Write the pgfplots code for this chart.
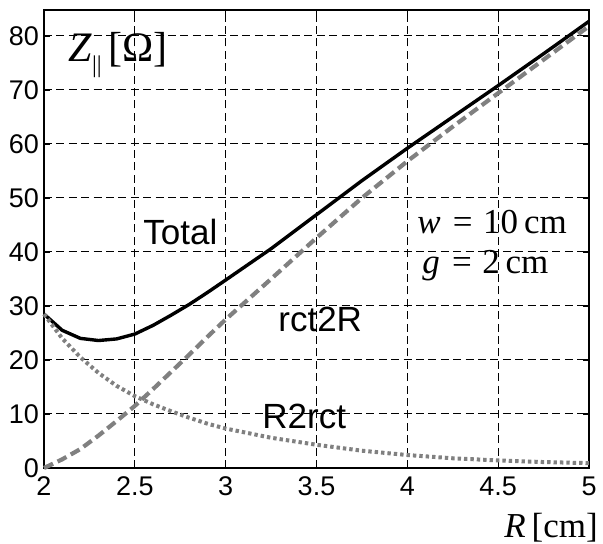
\documentclass[border=0pt]{standalone}
\usepackage{fontspec}
\setmainfont{Liberation Sans}
\newfontfamily\serif{Liberation Serif}
\usepackage{pgfplots}
\usepackage{pgfplotstable}
\pgfplotsset{compat=1.18}
\definecolor{curvegray}{RGB}{128,128,128}

% impedance contributions versus radius R
\pgfplotstableread{
R     total  rctR   Rrct
2.00  28.5   0.0    28.5
2.10  25.5   1.6    24.0
2.20  24.0   3.5    20.5
2.30  23.6   6.0    17.6
2.40  23.9   8.7    15.2
2.50  24.8   11.5   13.3
2.60  26.4   14.6   11.8
2.70  28.3   17.8   10.5
2.80  30.3   21.0   9.3
2.90  32.5   24.3   8.2
3.00  34.8   27.5   7.3
3.25  40.6   35.0   5.6
3.50  46.9   42.6   4.3
3.75  53.2   50.0   3.2
4.00  59.2   56.8   2.4
4.25  65.0   63.2   1.8
4.50  70.8   69.4   1.4
4.75  76.7   75.6   1.1
5.00  82.7   81.8   0.9
}\zdata

\begin{document}
\begin{tikzpicture}
\path[use as bounding box] (-22pt,-38pt) rectangle (279.5pt,234pt);
\begin{axis}[
  at={(0,0)}, anchor=south west,
  width=272.5pt, height=229pt, scale only axis,
  xmin=2, xmax=5, ymin=0, ymax=84.8,
  xtick={2,2.5,...,5}, ytick={0,10,...,80},
  grid=major,
  major grid style={black, line width=0.5pt, dash pattern=on 4pt off 2.2pt},
  axis line style={line width=1pt},
  tick align=inside, major tick length=3pt,
  tick style={black, line width=0.6pt},
  tick label style={font=\fontsize{13.5}{15}\selectfont},
  /pgf/number format/assume math mode=true,
  xticklabel style={yshift=-1pt},
  yticklabel style={xshift=1pt},
  clip=false,
]
\addplot[black, line width=1.7pt] table[x=R, y=total] {\zdata};
\addplot[curvegray, line width=2.1pt, dash pattern=on 5pt off 2.5pt] table[x=R, y=rctR] {\zdata};
\addplot[curvegray, line width=2pt, dash pattern=on 1.7pt off 1.5pt] table[x=R, y=Rrct] {\zdata};

\node[anchor=base west, inner sep=0, font=\fontsize{17.5}{20}\selectfont] at (axis cs:2.545,41.3) {Total};
\node[anchor=base west, inner sep=0, font=\fontsize{17.5}{20}\selectfont] at (axis cs:3.288,25.2) {rct2R};
\node[anchor=base west, inner sep=0, font=\fontsize{17.5}{20}\selectfont] at (axis cs:3.2,7.4) {R2rct};
\node[anchor=base west, inner sep=0, font=\serif\fontsize{17.5}{20}\selectfont] at (axis cs:4.053,43.5) {\textit{w}\hspace{0.35em}=\hspace{0.3em}10\,cm};
\node[anchor=base west, inner sep=0, font=\serif\fontsize{17.5}{20}\selectfont] at (axis cs:4.08,36.1) {\textit{g}\hspace{0.35em}=\hspace{0.3em}2\,cm};
\node[anchor=base west, inner sep=0, font=\serif\fontsize{21}{23}\selectfont] at (axis cs:2.132,75.2) {\textit{Z}\raisebox{-0.55ex}{\fontsize{12}{13}\selectfont ||}\,[Ω]};
\node[anchor=base east, inner sep=0, font=\serif\fontsize{17.5}{20}\selectfont] at (axis cs:5.05,-12.8) {\textit{R}\,[cm]};
\end{axis}
\end{tikzpicture}
\end{document}
